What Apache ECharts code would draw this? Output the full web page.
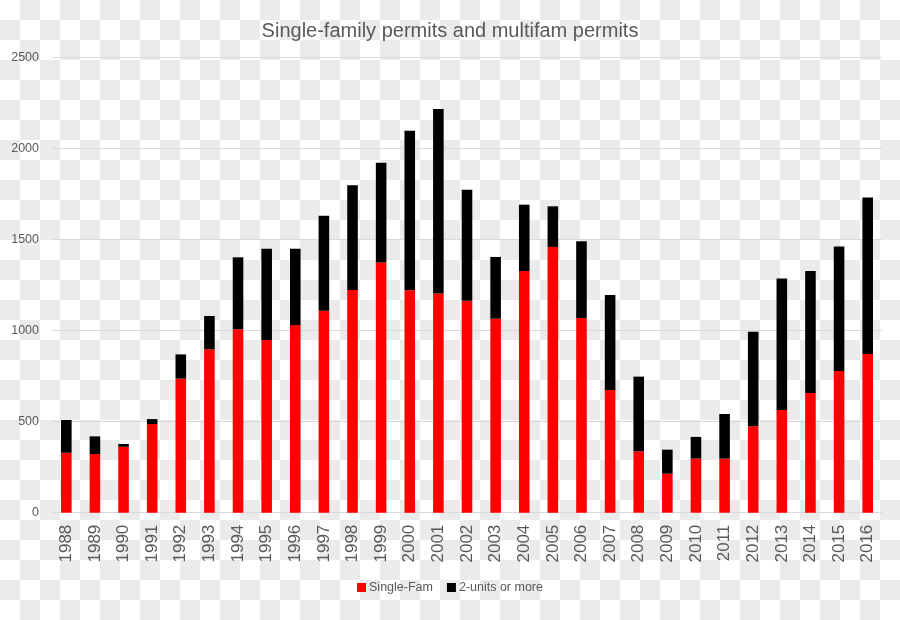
<!DOCTYPE html>
<html>
<head>
<meta charset="utf-8">
<script src="https://cdn.jsdelivr.net/npm/echarts@6/dist/echarts.min.js"></script>
<style>
  html, body { margin: 0; padding: 0; }
  body {
    width: 900px; height: 620px;
    background: repeating-conic-gradient(#ebebeb 0% 25%, #ffffff 0% 50%) 0 0 / 40px 40px;
  }
  #chart { width: 900px; height: 620px; }
</style>
</head>
<body>
<div id="chart"></div>
<script>
const years = ['1988','1989','1990','1991','1992','1993','1994','1995','1996','1997','1998','1999','2000','2001','2002','2003','2004','2005','2006','2007','2008','2009','2010','2011','2012','2013','2014','2015','2016'];
const singleFam = [329, 322, 362, 487, 736, 897, 1007, 948, 1030, 1109, 1223, 1373, 1221, 1204, 1164, 1065, 1327, 1459, 1069, 674, 337, 214, 297, 297, 474, 564, 657, 778, 871];
const multiFam = [180, 97, 15, 27, 133, 183, 395, 501, 419, 521, 574, 548, 876, 1012, 609, 339, 364, 223, 421, 521, 410, 132, 119, 245, 520, 721, 670, 684, 860];
const yTicks = [0, 500, 1000, 1500, 2000, 2500];

const FONT = 'Liberation Sans';
const GREY = '#595959';

const chart = echarts.init(document.getElementById('chart'), null, { renderer: 'canvas' });
chart.setOption({
  backgroundColor: 'transparent',
  animation: false,
  title: {
    text: 'Single-family permits and multifam permits',
    left: 'center',
    top: 16,
    textStyle: { fontFamily: FONT, fontSize: 20, fontWeight: 'normal', color: GREY }
  },
  legend: {
    bottom: 21,
    left: 'center',
    itemWidth: 9,
    itemHeight: 9,
    itemGap: 14,
    icon: 'rect',
    textStyle: { fontFamily: FONT, fontSize: 12.5, color: GREY, padding: [0, 0, 0, -2] },
    data: ['Single-Fam', '2-units or more']
  },
  grid: { left: 52, right: 18, top: 57.3, bottom: 107.3, containLabel: false },
  xAxis: {
    type: 'category',
    data: years,
    axisLine: { show: true, lineStyle: { color: '#d9d9d9', width: 1 } },
    axisTick: { show: false },
    axisLabel: { rotate: 90, margin: 12, fontFamily: FONT, fontSize: 17, color: GREY, interval: 0 }
  },
  yAxis: {
    type: 'value',
    min: yTicks[0],
    max: yTicks[yTicks.length - 1],
    interval: 500,
    axisLine: { show: false },
    axisTick: { show: false },
    splitLine: { show: true, lineStyle: { color: '#d9d9d9', width: 1 } },
    axisLabel: { margin: 13, fontFamily: FONT, fontSize: 12.5, color: GREY, formatter: v => String(v) }
  },
  series: [
    {
      name: 'Single-Fam',
      type: 'bar',
      stack: 'total',
      data: singleFam,
      barWidth: '37%',
      itemStyle: { color: '#ff0000' }
    },
    {
      name: '2-units or more',
      type: 'bar',
      stack: 'total',
      data: multiFam,
      barWidth: '37%',
      itemStyle: { color: '#000000' }
    }
  ]
});
</script>
</body>
</html>
